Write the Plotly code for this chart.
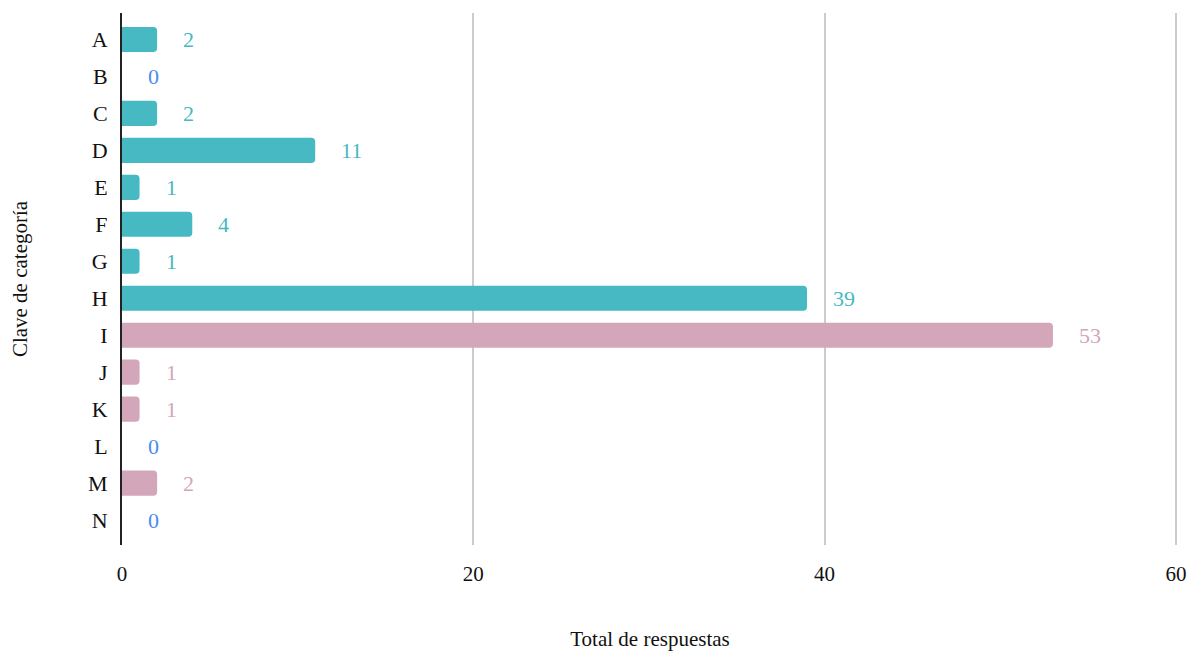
import plotly.graph_objects as go

categories = ["A", "B", "C", "D", "E", "F", "G", "H", "I", "J", "K", "L", "M", "N"]
values = [2, 0, 2, 11, 1, 4, 1, 39, 53, 1, 1, 0, 2, 0]
groups = ["t", "t", "t", "t", "t", "t", "t", "t", "p", "p", "p", "p", "p", "p"]
x_ticks = [0, 20, 40, 60]

TEAL = "#47B9C3"
PINK = "#D4A6B9"
ZERO = "#4A8AF4"
FONT = "Liberation Serif"

bar_colors = [TEAL if g == "t" else PINK for g in groups]
label_colors = [ZERO if v == 0 else (TEAL if g == "t" else PINK) for v, g in zip(values, groups)]

fig = go.Figure()
fig.add_trace(go.Bar(
    x=values, y=categories, orientation="h",
    marker=dict(color=bar_colors, cornerradius=4, line=dict(width=0)),
    width=0.68, hoverinfo="x+y",
))

for c, v, col in zip(categories, values, label_colors):
    fig.add_annotation(x=v, y=c, text=str(v), showarrow=False, xanchor="left",
                       xshift=24, font=dict(family=FONT, size=22, color=col))

n = len(categories)
fig.update_layout(
    width=1192, height=654,
    margin=dict(l=122, r=14, t=13, b=109),
    plot_bgcolor="white", paper_bgcolor="white",
    showlegend=False,
    font=dict(family=FONT, size=22, color="#111111"),
    xaxis=dict(range=[0, 60.12], tickvals=x_ticks, showgrid=True, gridcolor="#CCCCCC",
               gridwidth=2, zeroline=False, showline=False, ticks="",
               tickfont=dict(size=21), ticklabelstandoff=14, automargin=False,
               title=dict(text="Total de respuestas", font=dict(size=21), standoff=46)),
    yaxis=dict(categoryorder="array", categoryarray=categories,
               range=[n - 1 + 25 / 37, -26.5 / 37], showgrid=False, zeroline=False,
               showline=True, linecolor="#222222", linewidth=2, ticks="",
               tickfont=dict(size=22), ticklabelstandoff=8,
               title=dict(text="Clave de categoría", font=dict(size=21), standoff=55)),
)

fig.write_html(
    "out.html", config={"displayModeBar": False},
    post_script=(
        "var h=document.documentElement, b=document.body;"
        "h.style.overflow='hidden'; h.style.width='1192px'; h.style.height='654px';"
        "b.style.margin='0'; b.style.overflow='hidden';"
        "b.style.width='1192px'; b.style.height='654px';"
    ),
)
